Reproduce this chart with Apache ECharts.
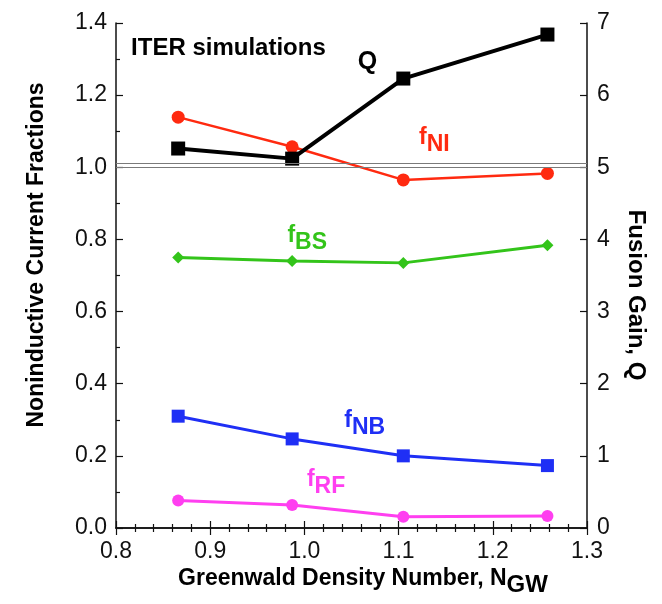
<!DOCTYPE html>
<html>
<head>
<meta charset="utf-8">
<script src="https://cdn.jsdelivr.net/npm/echarts@6/dist/echarts.min.js"></script>
<style>
  html, body { margin: 0; padding: 0; background: #fff; }
  #chart { width: 662px; height: 604px; }
</style>
</head>
<body>
<div id="chart"></div>
<script>
// Greenwald density number for each simulation
const densityNGW = [0.866, 0.987, 1.105, 1.258];

// Noninductive current fractions (left axis)
const fNI = [1.139, 1.057, 0.965, 0.983];
const fBS = [0.750, 0.740, 0.735, 0.784];
const fNB = [0.310, 0.247, 0.200, 0.173];
const fRF = [0.076, 0.064, 0.031, 0.033];

// Fusion gain (right axis)
const fusionQ = [5.26, 5.12, 6.23, 6.84];

// Reference level of full noninductive drive
const fullDrive = 1.0;

// Tick ranges
const xTicks = { min: 0.8, max: 1.3, interval: 0.1 };
const fracTicks = { min: 0, max: 1.4, interval: 0.2 };
const qTicks = { min: 0, max: 7, interval: 1 };

const FONT = 'Liberation Sans';

function pairs(ys) { return densityNGW.map((x, i) => [x, ys[i]]); }

const chart = echarts.init(document.getElementById('chart'), null, { renderer: 'canvas' });

const axisLine = { show: true, lineStyle: { color: '#111', width: 1.5 } };
const tickLabel = { color: '#111', fontFamily: FONT, fontSize: 23 };
const majorTick = { show: true, inside: true, length: 7, lineStyle: { color: '#111', width: 1.2 } };

const option = {
  animation: false,
  backgroundColor: '#fff',
  grid: { left: 116, right: 75, top: 23, bottom: 76, containLabel: false },
  xAxis: [
    {
      type: 'value', position: 'bottom',
      min: xTicks.min, max: xTicks.max, interval: xTicks.interval,
      axisLine: axisLine, axisTick: majorTick,
      minorTick: { show: true, splitNumber: 5, length: 4, lineStyle: { color: '#111', width: 1.2 } },
      splitLine: { show: false },
      axisLabel: Object.assign({ margin: 12, formatter: v => v.toFixed(1) }, tickLabel)
    },
    {
      type: 'value', position: 'top',
      min: xTicks.min, max: xTicks.max, interval: xTicks.interval,
      axisLine: axisLine, axisTick: majorTick,
      minorTick: { show: true, splitNumber: 5, length: 4, lineStyle: { color: '#111', width: 1.2 } },
      splitLine: { show: false },
      axisLabel: { show: false }
    }
  ],
  yAxis: [
    {
      type: 'value', position: 'left',
      min: fracTicks.min, max: fracTicks.max, interval: fracTicks.interval,
      axisLine: axisLine, axisTick: majorTick,
      minorTick: { show: true, splitNumber: 2, length: 4, lineStyle: { color: '#111', width: 1.2 } },
      splitLine: { show: false },
      axisLabel: Object.assign({ margin: 9, formatter: v => v.toFixed(1) }, tickLabel)
    },
    {
      type: 'value', position: 'right',
      min: qTicks.min, max: qTicks.max, interval: qTicks.interval,
      axisLine: axisLine, axisTick: majorTick,
      splitLine: { show: false },
      axisLabel: Object.assign({ margin: 10 }, tickLabel)
    }
  ],
  series: [
    {
      name: 'reference', type: 'line', data: [], xAxisIndex: 0, yAxisIndex: 0,
      markLine: {
        silent: true, symbol: 'none', label: { show: false },
        lineStyle: { color: '#7a7a7a', width: 1.2, type: 'solid' },
        data: [{ yAxis: fullDrive + 0.008 }, { yAxis: fullDrive - 0.004 }]
      }
    },
    {
      name: 'fNI', type: 'line', data: pairs(fNI), yAxisIndex: 0,
      symbol: 'circle', symbolSize: 13,
      lineStyle: { color: '#ff2a10', width: 2.5 }, itemStyle: { color: '#ff2a10' }, z: 3
    },
    {
      name: 'fBS', type: 'line', data: pairs(fBS), yAxisIndex: 0,
      symbol: 'diamond', symbolSize: 12,
      lineStyle: { color: '#33c41a', width: 3 }, itemStyle: { color: '#33c41a' }, z: 3
    },
    {
      name: 'fNB', type: 'line', data: pairs(fNB), yAxisIndex: 0,
      symbol: 'rect', symbolSize: 13,
      lineStyle: { color: '#1f2ff5', width: 3 }, itemStyle: { color: '#1f2ff5' }, z: 3
    },
    {
      name: 'fRF', type: 'line', data: pairs(fRF), yAxisIndex: 0,
      symbol: 'circle', symbolSize: 12,
      lineStyle: { color: '#ff3ff0', width: 3 }, itemStyle: { color: '#ff3ff0' }, z: 3
    },
    {
      name: 'Q', type: 'line', data: pairs(fusionQ), yAxisIndex: 1,
      symbol: 'rect', symbolSize: 14,
      lineStyle: { color: '#000', width: 4 }, itemStyle: { color: '#000' }, z: 4
    }
  ]
};

chart.setOption(option);

// Series labels, placed in data coordinates of the left axis
function fLabel(sub, color, x, y) {
  const p = chart.convertToPixel({ xAxisIndex: 0, yAxisIndex: 0 }, [x, y]);
  return {
    type: 'text', x: p[0], y: p[1], z: 10,
    style: {
      text: '{f|f}{s|' + sub + '}',
      fill: color, align: 'center', verticalAlign: 'middle',
      rich: {
        f: { fontFamily: FONT, fontSize: 23, fontWeight: 'bold', fill: color, verticalAlign: 'top', lineHeight: 30 },
        s: { fontFamily: FONT, fontSize: 23, fontWeight: 'bold', fill: color, verticalAlign: 'bottom', lineHeight: 30 }
      }
    }
  };
}

const qPos = chart.convertToPixel({ xAxisIndex: 0, yAxisIndex: 0 }, [1.067, 1.292]);
const iterPos = chart.convertToPixel({ xAxisIndex: 0, yAxisIndex: 0 }, [0.816, 1.331]);

chart.setOption({
  graphic: [
    {
      type: 'text', x: iterPos[0], y: iterPos[1], z: 10,
      style: { text: 'ITER simulations', fontFamily: FONT, fontSize: 24, fontWeight: 'bold', fill: '#000', align: 'left', verticalAlign: 'middle' }
    },
    {
      type: 'text', x: qPos[0], y: qPos[1], z: 10,
      style: { text: 'Q', fontFamily: FONT, fontSize: 25, fontWeight: 'bold', fill: '#000', align: 'center', verticalAlign: 'middle' }
    },
    fLabel('NI', '#ff2a10', 1.138, 1.073),
    fLabel('BS', '#33c41a', 1.003, 0.800),
    fLabel('NB', '#1f2ff5', 1.064, 0.288),
    fLabel('RF', '#ff3ff0', 1.023, 0.125),
    {
      type: 'text', x: 37, y: 255, rotation: Math.PI / 2, z: 10,
      style: { text: 'Noninductive Current Fractions', fontFamily: FONT, fontSize: 23, fontWeight: 'bold', fill: '#000', align: 'center', verticalAlign: 'middle' }
    },
    {
      type: 'text', x: 636, y: 295, rotation: -Math.PI / 2, z: 10,
      style: { text: 'Fusion Gain, Q', fontFamily: FONT, fontSize: 24, fontWeight: 'bold', fill: '#000', align: 'center', verticalAlign: 'middle' }
    },
    {
      type: 'text', x: 363, y: 582, z: 10,
      style: {
        text: '{m|Greenwald Density Number, N}{s|GW}',
        fill: '#000', align: 'center', verticalAlign: 'middle',
        rich: {
          m: { fontFamily: FONT, fontSize: 23, fontWeight: 'bold', fill: '#000', verticalAlign: 'top', lineHeight: 30 },
          s: { fontFamily: FONT, fontSize: 24, fontWeight: 'bold', fill: '#000', verticalAlign: 'bottom', lineHeight: 30 }
        }
      }
    }
  ]
});
</script>
</body>
</html>
